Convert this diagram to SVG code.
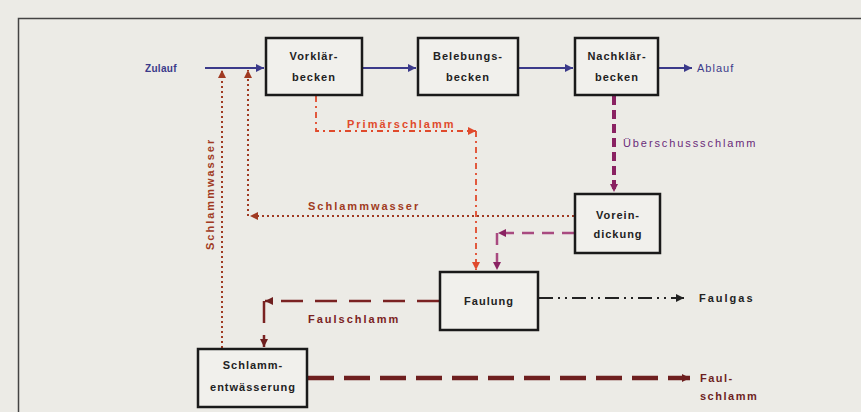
<svg xmlns="http://www.w3.org/2000/svg" width="861" height="412" viewBox="0 0 861 412">
<style>
.box{fill:#f1f0ec;stroke:#1a1a1a;stroke-width:2.5}
.bt{font-family:"Liberation Sans",Arial,sans-serif;font-size:11px;font-weight:bold;fill:#222;text-anchor:middle;letter-spacing:1px}
.lbl{font-family:"Liberation Sans",Arial,sans-serif;font-size:11px;font-weight:bold;letter-spacing:2px}
.c{fill:none}
</style>
<defs>
<marker id="ab" markerUnits="userSpaceOnUse" markerWidth="10" markerHeight="8" refX="8" refY="4" orient="auto"><path d="M0,0 L8,4 L0,8 Z" fill="#3b3a8a"/></marker>
<marker id="ar" markerUnits="userSpaceOnUse" markerWidth="10" markerHeight="8" refX="8" refY="4" orient="auto"><path d="M0,0 L8,4 L0,8 Z" fill="#e04a2c"/></marker>
<marker id="abr" markerUnits="userSpaceOnUse" markerWidth="10" markerHeight="8" refX="8" refY="4" orient="auto"><path d="M0,0 L8,4 L0,8 Z" fill="#a03a22"/></marker>
<marker id="ap" markerUnits="userSpaceOnUse" markerWidth="10" markerHeight="8" refX="8" refY="4" orient="auto"><path d="M0,0 L8,4 L0,8 Z" fill="#8a2262"/></marker>
<marker id="ad" markerUnits="userSpaceOnUse" markerWidth="10" markerHeight="8" refX="8" refY="4" orient="auto"><path d="M0,0 L8,4 L0,8 Z" fill="#6e1f1f"/></marker>
<marker id="ak" markerUnits="userSpaceOnUse" markerWidth="10" markerHeight="8" refX="8" refY="4" orient="auto"><path d="M0,0 L8,4 L0,8 Z" fill="#222"/></marker>
</defs>
<rect x="0" y="0" width="861" height="412" fill="#ecebe6"/>
<path d="M18.5,412 L18.5,18.5 L861,18.5" fill="none" stroke="#444" stroke-width="1.5"/>

<g id="connectors">
<path class="c" d="M205,68 L264,68" stroke="#3b3a8a" stroke-width="2" marker-end="url(#ab)"/>
<path class="c" d="M363,68 L416,68" stroke="#3b3a8a" stroke-width="2" marker-end="url(#ab)"/>
<path class="c" d="M519,68 L573,68" stroke="#3b3a8a" stroke-width="2" marker-end="url(#ab)"/>
<path class="c" d="M659,68 L692,68" stroke="#3b3a8a" stroke-width="2" marker-end="url(#ab)"/>
<path class="c" d="M316,96 L316,131 L476,131" stroke="#e04a2c" stroke-width="1.8" stroke-dasharray="6,4,2,4" marker-end="url(#ar)"/>
<path class="c" d="M476,131 L476,270" stroke="#e04a2c" stroke-width="1.8" stroke-dasharray="6,4,2,4" marker-end="url(#ar)"/>
<path class="c" d="M614,96 L614,192" stroke="#8a2262" stroke-width="4" stroke-dasharray="9,5" marker-end="url(#ap)"/>
<path class="c" d="M574,233 L498,233" stroke="#a84a80" stroke-width="2.5" stroke-dasharray="12,8" marker-end="url(#ap)"/>
<path class="c" d="M497,233 L497,270" stroke="#a84a80" stroke-width="2.5" stroke-dasharray="12,8" marker-end="url(#ap)"/>
<path class="c" d="M574,216 L250,216" stroke="#a03a22" stroke-width="2" stroke-dasharray="2,3" marker-end="url(#abr)"/>
<path class="c" d="M248,216 L248,70" stroke="#a03a22" stroke-width="2" stroke-dasharray="2,3" marker-end="url(#abr)"/>
<path class="c" d="M222,348 L222,70" stroke="#a03a22" stroke-width="2" stroke-dasharray="2,3" marker-end="url(#abr)"/>
<path class="c" d="M439,301 L265,301" stroke="#7a2222" stroke-width="2.5" stroke-dasharray="22,12" marker-end="url(#ad)"/>
<path class="c" d="M264,301 L264,347" stroke="#7a2222" stroke-width="2.5" stroke-dasharray="22,12" marker-end="url(#ad)"/>
<path class="c" d="M539,298 L684,298" stroke="#222" stroke-width="1.8" stroke-dasharray="14,5,2,5,2,5" marker-end="url(#ak)"/>
<path class="c" d="M308,378 L690,378" stroke="#6e1f1f" stroke-width="4.5" stroke-dasharray="26,10" marker-end="url(#ad)"/>
</g>

<g id="labels">
<text class="lbl" x="145" y="72" fill="#3b3a8a" style="font-size:10px;letter-spacing:0.3px">Zulauf</text>
<text class="lbl" x="697" y="72" fill="#3b3a8a" style="font-weight:normal;letter-spacing:1px">Ablauf</text>
<text class="lbl" x="347" y="128" fill="#e04a2c">Primärschlamm</text>
<text class="lbl" x="623" y="147" fill="#6a2a7a" style="font-weight:normal;letter-spacing:1.9px">Überschussschlamm</text>
<text class="lbl" x="308" y="210" fill="#a03a22">Schlammwasser</text>
<text class="lbl" x="0" y="0" fill="#a03a22" transform="translate(214,250) rotate(-90)">Schlammwasser</text>
<text class="lbl" x="308" y="323" fill="#7a2222">Faulschlamm</text>
<text class="lbl" x="699" y="302" fill="#222">Faulgas</text>
<text class="lbl" x="700" y="382" fill="#6e1f1f" style="letter-spacing:1.5px">Faul-</text>
<text class="lbl" x="700" y="400" fill="#6e1f1f" style="letter-spacing:1.5px">schlamm</text>
</g>

<g id="vorklaerbecken"><rect class="box" x="266" y="38" width="96" height="57"/><text class="bt" x="314" y="60">Vorklär-</text><text class="bt" x="314" y="81">becken</text></g>
<g id="belebungsbecken"><rect class="box" x="418" y="38" width="100" height="57"/><text class="bt" x="468" y="60">Belebungs-</text><text class="bt" x="468" y="81">becken</text></g>
<g id="nachklaerbecken"><rect class="box" x="575" y="38" width="83" height="57"/><text class="bt" x="617" y="60">Nachklär-</text><text class="bt" x="617" y="81">becken</text></g>
<g id="voreindickung"><rect class="box" x="575" y="194" width="85" height="59"/><text class="bt" x="618" y="219">Vorein-</text><text class="bt" x="618" y="238">dickung</text></g>
<g id="faulung"><rect class="box" x="440" y="272" width="98" height="58"/><text class="bt" x="489" y="305">Faulung</text></g>
<g id="schlammentwaesserung"><rect class="box" x="198" y="349" width="109" height="58"/><text class="bt" x="253" y="369">Schlamm-</text><text class="bt" x="253" y="391">entwässerung</text></g>
</svg>
